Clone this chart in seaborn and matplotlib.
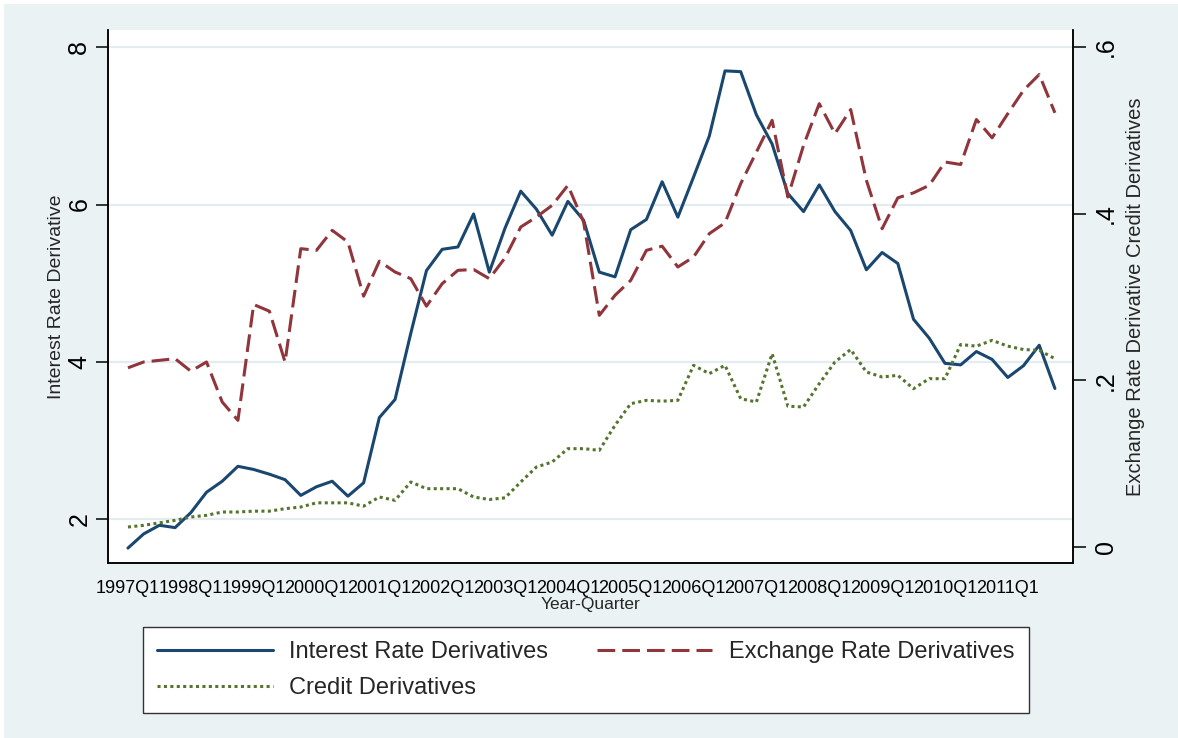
import numpy as np
import pandas as pd
import matplotlib
matplotlib.use("Agg")
import matplotlib.pyplot as plt
from matplotlib.patches import Rectangle
import seaborn as sns

# Quarterly series, 1997Q1 - 2011Q4
tick_labels = ["1997Q1", "1998Q1", "1999Q1", "2000Q1", "2001Q1", "2002Q1", "2003Q1",
               "2004Q1", "2005Q1", "2006Q1", "2007Q1", "2008Q1", "2009Q1", "2010Q1",
               "2011Q1"]

interest = [1.63, 1.81, 1.92, 1.89, 2.08, 2.34, 2.48, 2.67, 2.63, 2.57,
            2.50, 2.30, 2.41, 2.48, 2.29, 2.46, 3.29, 3.52, 4.36, 5.16,
            5.43, 5.46, 5.88, 5.14, 5.70, 6.17, 5.94, 5.61, 6.04, 5.80,
            5.14, 5.08, 5.68, 5.81, 6.29, 5.84, 6.35, 6.87, 7.70, 7.69,
            7.14, 6.77, 6.14, 5.91, 6.25, 5.91, 5.67, 5.17, 5.39, 5.25,
            4.54, 4.30, 3.98, 3.96, 4.13, 4.03, 3.80, 3.95, 4.21, 3.66]

exchange = [0.215, 0.222, 0.224, 0.226, 0.211, 0.222, 0.174, 0.152, 0.291, 0.283,
            0.222, 0.358, 0.356, 0.380, 0.366, 0.301, 0.343, 0.330, 0.322, 0.289,
            0.316, 0.332, 0.333, 0.322, 0.347, 0.384, 0.396, 0.410, 0.434, 0.390,
            0.278, 0.302, 0.320, 0.356, 0.361, 0.336, 0.348, 0.376, 0.389, 0.436,
            0.474, 0.512, 0.420, 0.482, 0.532, 0.496, 0.525, 0.440, 0.382, 0.419,
            0.425, 0.434, 0.462, 0.459, 0.513, 0.491, 0.520, 0.548, 0.567, 0.521]

credit = [0.024, 0.026, 0.029, 0.032, 0.036, 0.038, 0.042, 0.042, 0.043, 0.043,
          0.046, 0.048, 0.053, 0.053, 0.053, 0.049, 0.060, 0.056, 0.078, 0.070,
          0.070, 0.070, 0.060, 0.057, 0.059, 0.078, 0.096, 0.102, 0.118, 0.118,
          0.116, 0.146, 0.172, 0.176, 0.175, 0.176, 0.218, 0.208, 0.218, 0.178,
          0.174, 0.232, 0.169, 0.168, 0.196, 0.222, 0.237, 0.210, 0.204, 0.206,
          0.190, 0.202, 0.202, 0.243, 0.241, 0.248, 0.241, 0.237, 0.236, 0.226]

df = pd.DataFrame({
    "t": np.arange(len(interest)),
    "interest": interest,
    "exchange": exchange,
    "credit": credit,
})

BG = "#eaf2f3"
GRID = "#e3ecee"
NAVY = "#1a476f"
MAROON = "#90353b"
GREEN = "#55752f"

sns.set_style("white")
plt.rcParams["font.family"] = ["Liberation Sans", "DejaVu Sans"]

W, H = 1178, 738
fig = plt.figure(figsize=(W / 100, H / 100), dpi=100, facecolor="white")
fig.patches.append(Rectangle((4 / W, 0), 1 - 4 / W, 1 - 4 / H, transform=fig.transFigure,
                             facecolor=BG, edgecolor="none", zorder=-10))

ax = fig.add_axes([108 / W, 1 - 563 / H, (1073 - 108) / W, (563 - 30) / H])
ax.set_facecolor("white")
ax2 = ax.twinx()

sns.lineplot(data=df, x="t", y="interest", ax=ax, color=NAVY, lw=2.2,
             label="Interest Rate Derivatives", legend=False)
sns.lineplot(data=df, x="t", y="exchange", ax=ax2, color=MAROON, lw=2.2,
             linestyle=(0, (5.8, 2.3)), label="Exchange Rate Derivatives", legend=False)
sns.lineplot(data=df, x="t", y="credit", ax=ax2, color=GREEN, lw=2.2,
             linestyle=(0, (1, 1.1)), label="Credit Derivatives", legend=False)

ax.set_xlim(-1.27, 60.15)
ax.set_ylim(1.44, 8.22)
ax2.set_ylim(-0.0192, 0.6204)

ax.set_xticks(np.arange(0, 57, 4))
ax.set_xticklabels(tick_labels, fontsize=13)
ax.set_yticks([2, 4, 6, 8])
ax.set_yticklabels(["2", "4", "6", "8"], rotation=90, va="center", fontsize=18)
ax2.set_yticks([0, 0.2, 0.4, 0.6])
ax2.set_yticklabels(["0", ".2", ".4", ".6"], rotation=90, va="center", fontsize=18)

ax.grid(axis="y", color=GRID, lw=1.6)
ax.set_axisbelow(True)

for a in (ax, ax2):
    a.spines["top"].set_visible(False)
    for s in ("left", "right", "bottom"):
        a.spines[s].set_color("black")
        a.spines[s].set_linewidth(1.1)
ax.tick_params(axis="both", direction="out", length=9, width=1.1, color="black",
               pad=3, labelcolor="black")
ax2.tick_params(axis="y", direction="out", length=9, width=1.1, color="black",
                pad=6, labelcolor="black")

ax.set_xlabel("Year-Quarter", fontsize=12.5, labelpad=0)
ax.set_ylabel("Interest Rate Derivative", fontsize=14, labelpad=2)
ax2.set_ylabel("Exchange Rate Derivative Credit Derivatives", fontsize=14.5, labelpad=6)

# column-major fill: Interest / Credit in column 1, Exchange in column 2
h_int = ax.get_lines()[0]
h_exc, h_cre = ax2.get_lines()[:2]
leg = fig.legend([h_int, h_cre, h_exc],
                 ["Interest Rate Derivatives", "Credit Derivatives", "Exchange Rate Derivatives"],
                 ncol=2, loc="upper left", bbox_to_anchor=(143 / W, 1 - 627 / H),
                 fontsize=17, frameon=True, fancybox=False, framealpha=1,
                 handlelength=4.9, handletextpad=0.7, columnspacing=2.05,
                 labelspacing=0.58, borderpad=0.6, borderaxespad=0)
leg.get_frame().set_edgecolor("#333333")
leg.get_frame().set_linewidth(1.0)
leg.get_frame().set_facecolor("white")

fig.savefig("out.png", dpi=100, facecolor=fig.get_facecolor())
